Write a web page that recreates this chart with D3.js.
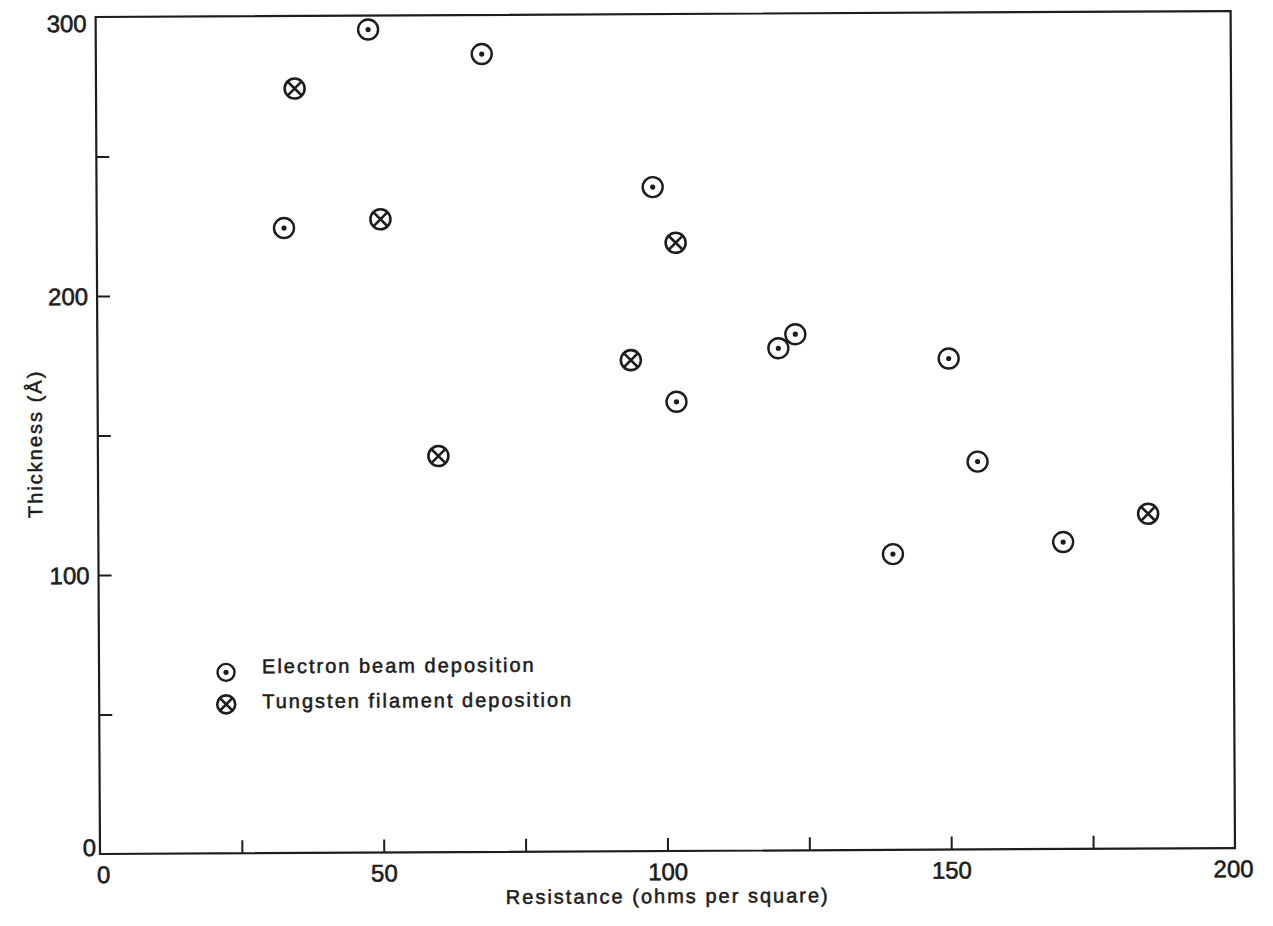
<!DOCTYPE html>
<html>
<head>
<meta charset="utf-8">
<script src="https://cdn.jsdelivr.net/npm/d3@7"></script>
<style>
  body { margin: 0; background: #fff; }
  text { font-family: "Liberation Sans", Arial, Helvetica, sans-serif; fill: #1d1d1d; }
  .label { font-size: 20px; letter-spacing: 2px; }
</style>
</head>
<body>
<div id="chart"></div>
<script>
// Electron beam deposition: resistance (ohms/sq) and thickness (A)
const electronRes = [48, 68, 33, 98, 123, 120, 102, 150, 155, 140, 170];
const electronThk = [295, 286, 224, 238, 185, 180, 161, 176, 139, 106, 110];

// Tungsten filament deposition
const tungstenRes = [35, 50, 102, 94, 60, 185];
const tungstenThk = [274, 227, 218, 176, 142, 120];

const xTickLabels = [0, 50, 100, 150, 200];
const yTickLabels = [0, 100, 200, 300];
const xMinorTicks = [25, 50, 75, 100, 125, 150, 175];
const yMinorTicks = [50, 100, 150, 200, 250];
const legendLabels = ["Electron beam deposition", "Tungsten filament deposition"];

const margin = {top: 17, left: 100};
const width = 1135, height = 837;
const ink = "#1d1d1d";

const svg = d3.select("#chart").append("svg")
    .attr("width", 1273)
    .attr("height", 926);

// the original is a slightly tilted scan, so tilt the whole plot a little
const g = svg.append("g")
    .attr("transform", `rotate(-0.3, ${margin.left}, ${margin.top + height}) translate(${margin.left},${margin.top})`);

const x = d3.scaleLinear().domain([0, 200]).range([0, width]);
const y = d3.scaleLinear().domain([0, 300]).range([height, 0]);

// frame
g.append("rect")
    .attr("width", width).attr("height", height)
    .attr("fill", "none")
    .attr("stroke", ink)
    .attr("stroke-width", 2.2);

// inward ticks
let xTicks = g.append("g")
    .attr("transform", `translate(0,${height})`)
    .call(d3.axisBottom(x).tickValues(xMinorTicks).tickSize(-13).tickFormat(""));
let yTicks = g.append("g")
    .call(d3.axisLeft(y).tickValues(yMinorTicks).tickSize(-13).tickFormat(""));
[xTicks, yTicks].forEach(a => {
    a.select(".domain").remove();
    a.selectAll("line").attr("stroke", ink).attr("stroke-width", 2);
});

// tick labels
let xLab = g.append("g")
    .attr("transform", `translate(0,${height})`)
    .call(d3.axisBottom(x).tickValues(xTickLabels).tickSize(0).tickPadding(12));
let yLab = g.append("g")
    .call(d3.axisLeft(y).tickValues(yTickLabels).tickSize(0).tickPadding(9));
[xLab, yLab].forEach(a => {
    a.select(".domain").remove();
    a.attr("font-family", null).attr("font-size", null);
    a.selectAll("text")
        .attr("fill", ink)
        .style("font-size", "24px")
        .attr("stroke", ink)
        .attr("stroke-width", 0.6);
});
xLab.selectAll(".tick text").attr("x", d => d === 0 ? 3 : d === 200 ? -2 : 0);
yLab.selectAll(".tick text")
    .attr("dy", "0.35em")
    .attr("y", d => d === 0 ? -7 : d === 300 ? 6 : 0)
    .attr("x", d => d === 0 ? -4 : -9);

// axis titles
g.append("text")
    .attr("class", "label")
    .attr("x", x(100))
    .attr("y", height + 52)
    .attr("text-anchor", "middle")
    .attr("stroke", ink).attr("stroke-width", 0.55)
    .text("Resistance (ohms per square)");

g.append("text")
    .attr("class", "label")
    .attr("transform", `translate(-56,${y(150) + 8}) rotate(-90)`)
    .attr("text-anchor", "middle")
    .attr("stroke", ink).attr("stroke-width", 0.55)
    .text("Thickness (Å)");

// marker drawing
function dotMarker(sel, r) {
    sel.append("circle").attr("r", r)
        .attr("fill", "none").attr("stroke", ink).attr("stroke-width", 2.4);
    sel.append("circle").attr("r", 2.6).attr("fill", ink);
}
function crossMarker(sel, r) {
    sel.append("circle").attr("r", r)
        .attr("fill", "none").attr("stroke", ink).attr("stroke-width", 2.6);
    let k = r * 0.707;
    sel.append("path")
        .attr("d", `M${-k},${-k}L${k},${k}M${-k},${k}L${k},${-k}`)
        .attr("stroke", ink).attr("stroke-width", 2.6);
}

const electron = electronRes.map((v, i) => ({res: v, thk: electronThk[i]}));
const tungsten = tungstenRes.map((v, i) => ({res: v, thk: tungstenThk[i]}));

g.selectAll(".electron")
    .data(electron)
    .enter().append("g")
    .attr("class", "electron")
    .attr("transform", d => `translate(${x(d.res)},${y(d.thk)})`)
    .each(function() { dotMarker(d3.select(this), 10); });

g.selectAll(".tungsten")
    .data(tungsten)
    .enter().append("g")
    .attr("class", "tungsten")
    .attr("transform", d => `translate(${x(d.res)},${y(d.thk)})`)
    .each(function() { crossMarker(d3.select(this), 10); });

// legend
const legend = g.append("g").attr("transform", "translate(127,656)");
legendLabels.forEach((label, i) => {
    let row = legend.append("g").attr("transform", `translate(0,${i * 31})`);
    if (i === 0) dotMarker(row, 8.5); else crossMarker(row.append("g").attr("transform", "translate(0,1)"), 9);
    row.append("text")
        .attr("class", "label")
        .attr("x", 36)
        .attr("y", i === 0 ? 1 : 5)
        .attr("stroke", ink).attr("stroke-width", 0.55)
        .text(label);
});
</script>
</body>
</html>
